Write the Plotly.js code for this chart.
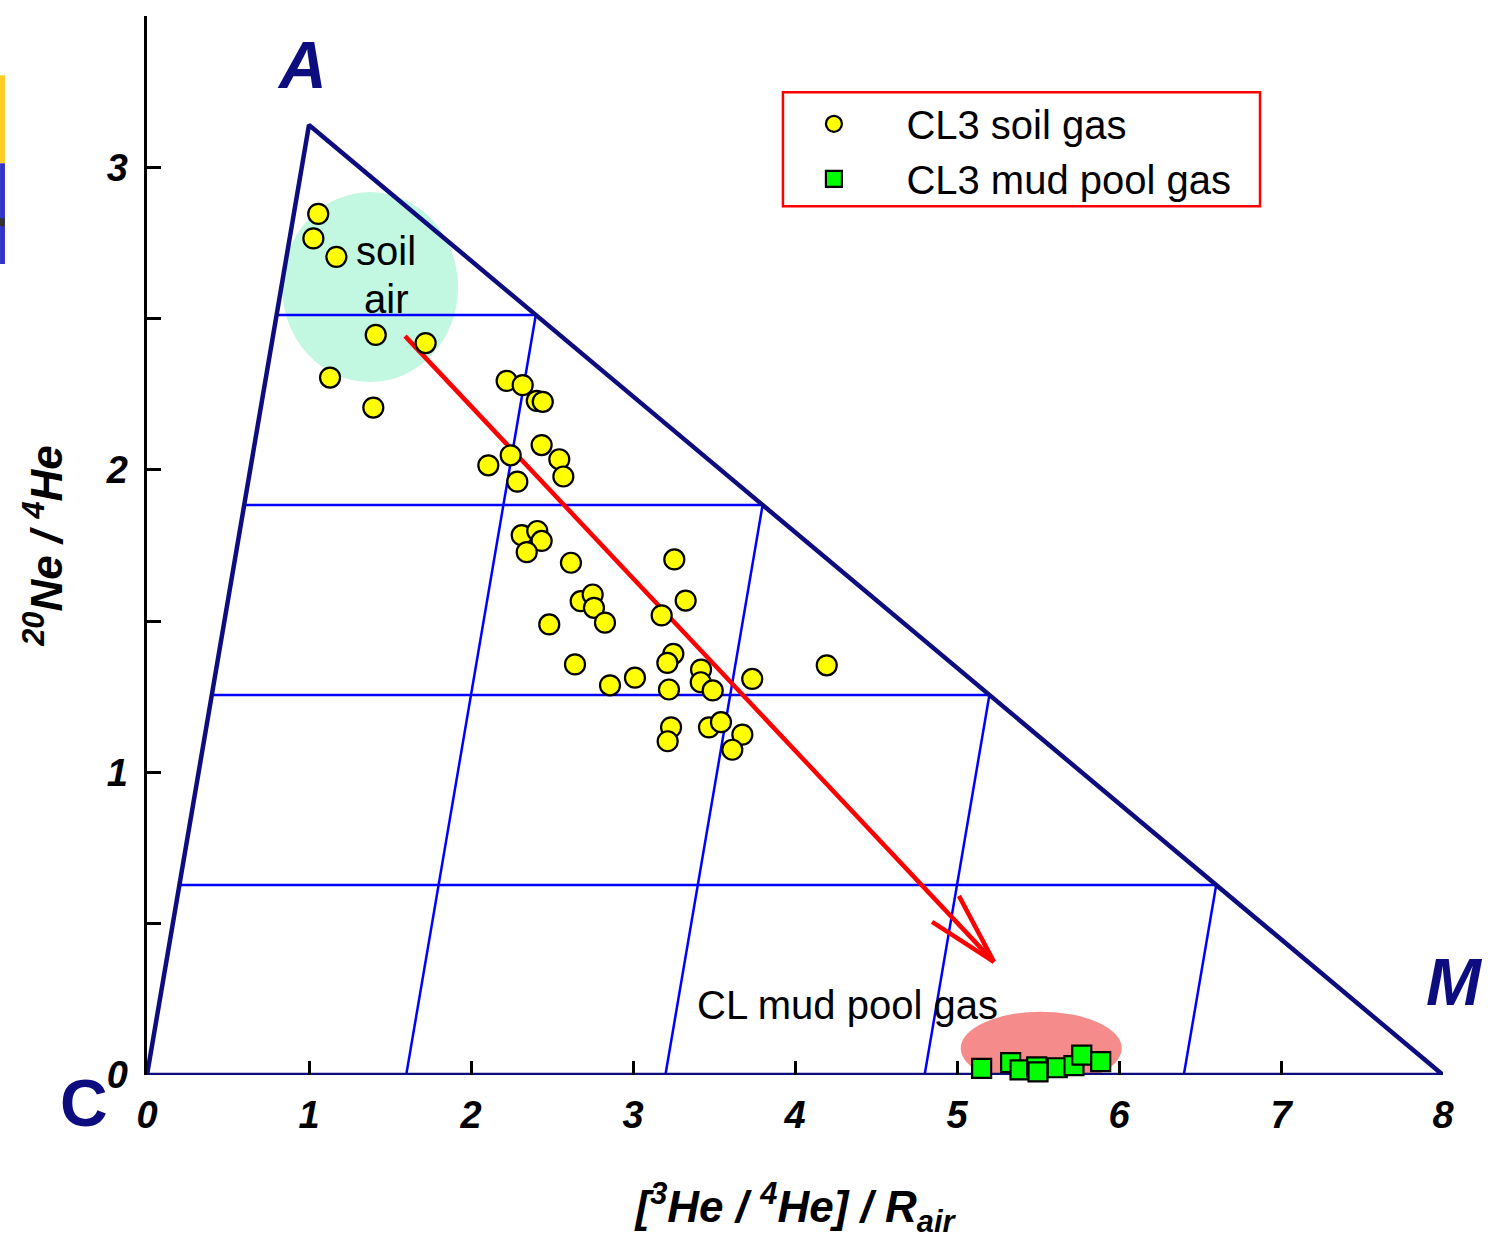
<!DOCTYPE html>
<html>
<head>
<meta charset="utf-8">
<script src="https://cdn.plot.ly/plotly-3.0.1.min.js"></script>
<style>html,body{margin:0;padding:0;background:#fff;}#chart{width:1488px;height:1248px;}</style>
</head>
<body>
<div id="chart"></div>
<script>
// ---- Data ----
// CL3 soil gas: x = [3He/4He]/Rair, y = 20Ne/4He
const soilX = [1.057,1.027,1.169,1.412,1.720,1.130,1.397,2.220,2.319,2.406,2.443,2.436,2.545,2.570,2.107,2.245,2.286,2.313,2.409,2.436,2.344,2.617,3.255,2.677,2.751,2.759,2.827,2.483,3.325,3.177,2.642,2.858,3.012,3.249,3.212,3.222,3.420,3.418,3.492,3.736,4.196,3.235,3.214,3.469,3.543,3.675,3.613];
const soilY = [2.846,2.765,2.704,2.446,2.419,2.305,2.206,2.294,2.280,2.228,2.225,2.082,2.035,1.978,2.015,2.048,1.961,1.784,1.798,1.765,1.728,1.693,1.704,1.566,1.588,1.544,1.495,1.489,1.568,1.519,1.357,1.288,1.313,1.392,1.362,1.274,1.340,1.298,1.271,1.309,1.354,1.149,1.103,1.149,1.166,1.125,1.075];
// CL3 mud pool gas
const mudX = [5.152,5.331,5.389,5.492,5.500,5.619,5.722,5.770,5.887];
const mudY = [0.022,0.041,0.017,0.027,0.010,0.024,0.031,0.066,0.044];

// Ternary-like frame: vertices C, A, M
const triX = [0, 1, 8, 0];
const triY = [0, 3.14, 0, 0];
// Horizontal guide lines (left end on CA, right end on AM)
const hLevelY = [0.628, 1.256, 1.884, 2.512];
const hLeftX  = [0.2, 0.4, 0.6, 0.8];
const hRightX = [6.6, 5.2, 3.8, 2.4];
// Slanted guide lines (from base to AM)
const sBaseX = [1.6, 3.2, 4.8, 6.4];
const sTopX  = [2.4, 3.8, 5.2, 6.6];
const sTopY  = [2.512, 1.884, 1.256, 0.628];

// Mixing arrow
const arrowX = [1.593, 5.228];
const arrowY = [2.442, 0.374];
const wing1X = [5.012, 5.228], wing1Y = [0.592, 0.374];
const wing2X = [4.846, 5.228], wing2Y = [0.506, 0.374];

// Field ellipses [x0,x1,y0,y1]
const soilAir = [0.834, 1.920, 2.290, 2.918];
const mudPool = [5.023, 6.017, -0.033, 0.209];

const xTicks = [0,1,2,3,4,5,6,7,8];
const yTicks = [0,1,2,3];
const yMinorTicks = [0.5,1.5,2.5,3.5];

const legendNames = ['CL3 soil gas', 'CL3 mud pool gas'];

// ---- Build traces ----
const NAVY = '#0d0d80';
const GRID = '#0000ff';
const FAM = 'Liberation Sans, Arial, sans-serif';
const PAD = '\u00a0\u00a0\u00a0\u00a0\u2009';
const traces = [];
const gx = [], gy = [];
for (let i = 0; i < hLevelY.length; i++) {
  gx.push(hLeftX[i], hRightX[i], null);
  gy.push(hLevelY[i], hLevelY[i], null);
}
for (let i = 0; i < sBaseX.length; i++) {
  gx.push(sBaseX[i], sTopX[i], null);
  gy.push(0, sTopY[i], null);
}
traces.push({x: gx, y: gy, mode: 'lines', line: {color: GRID, width: 2.5}, showlegend: false, hoverinfo: 'skip', cliponaxis: false});
traces.push({x: triX, y: triY, mode: 'lines', line: {color: NAVY, width: 4.5}, showlegend: false, hoverinfo: 'skip', cliponaxis: false});
traces.push({x: arrowX.concat([null]).concat(wing1X).concat([null]).concat(wing2X),
             y: arrowY.concat([null]).concat(wing1Y).concat([null]).concat(wing2Y),
             mode: 'lines', line: {color: '#ff0000', width: 4.5}, showlegend: false, hoverinfo: 'skip', cliponaxis: false});
traces.push({x: soilX, y: soilY, mode: 'markers', name: PAD + legendNames[0], cliponaxis: false,
             marker: {symbol: 'circle', size: 20, color: '#ffff00', line: {color: '#000', width: 2.2}}});
traces.push({x: mudX, y: mudY, mode: 'markers', name: PAD + legendNames[1], cliponaxis: false,
             marker: {symbol: 'square', size: 19, color: '#00ff00', line: {color: '#000', width: 2.2}}});

const tickFont = {family: FAM, size: 38, color: '#000', weight: 'bold', style: 'italic'};
const titleFont = {family: FAM, size: 44, color: '#000', weight: 'bold', style: 'italic'};
const txtFont = {family: FAM, size: 40, color: '#000'};
const bigFont = {family: FAM, size: 66, color: NAVY, weight: 'bold', style: 'italic'};

const layout = {
  width: 1488, height: 1248,
  margin: {l: 147, r: 45, t: 16, b: 173},
  paper_bgcolor: '#fff', plot_bgcolor: '#fff',
  showlegend: true,
  legend: {x: 0.5146, y: 0.9289, xanchor: 'left', yanchor: 'top', borderwidth: 0,
           bgcolor: 'rgba(0,0,0,0)', font: {family: FAM, size: 40, color: '#000'}},
  xaxis: {range: [0, 8], tickvals: xTicks, ticktext: xTicks.map(String), ticks: 'inside', ticklen: 14, tickwidth: 3,
          tickcolor: '#000', showline: false, showgrid: false, zeroline: false, tickfont: tickFont,
          ticklabelstandoff: 14,
          title: {text: '[<sup>3</sup>He / <sup>4</sup>He] / R<sub>air</sub>', font: titleFont, standoff: 56}},
  yaxis: {range: [0, 3.5], tickvals: yTicks, ticktext: yTicks.map(String), ticks: 'inside', ticklen: 14, tickwidth: 3,
          tickcolor: '#000', showline: true, linecolor: '#000', linewidth: 3.5, showgrid: false, zeroline: false,
          tickfont: tickFont, ticklabelstandoff: 8,
          minor: {tickvals: yMinorTicks, ticks: 'inside', ticklen: 14, tickwidth: 3, tickcolor: '#000', showgrid: false},
          title: {text: '<sup>20</sup>Ne / <sup>4</sup>He', font: titleFont, standoff: 30}},
  shapes: [
    {type: 'circle', xref: 'x', yref: 'y', x0: soilAir[0], x1: soilAir[1], y0: soilAir[2], y1: soilAir[3],
     fillcolor: '#c2f7e1', line: {width: 0}, layer: 'below'},
    {type: 'circle', xref: 'x', yref: 'y', x0: mudPool[0], x1: mudPool[1], y0: mudPool[2], y1: mudPool[3],
     fillcolor: '#f58b8b', line: {width: 0}, layer: 'below'},
    // legend frame
    {type: 'rect', xref: 'paper', yref: 'paper', x0: 0.4907, x1: 0.8588, y0: 0.8204, y1: 0.928,
     line: {color: '#ff0000', width: 2.5}, fillcolor: 'rgba(0,0,0,0)'},
    // slide remnant strip at left edge
    {type: 'rect', xref: 'paper', yref: 'paper', x0: -0.1134, x1: -0.1096, y0: 0.8609, y1: 0.9440, fillcolor: '#ffcc22', line: {width: 0}},
    {type: 'rect', xref: 'paper', yref: 'paper', x0: -0.1134, x1: -0.1096, y0: 0.7658, y1: 0.8609, fillcolor: '#3333cc', line: {width: 0}},
    {type: 'rect', xref: 'paper', yref: 'paper', x0: -0.1134, x1: -0.1096, y0: 0.8015, y1: 0.8090, fillcolor: '#333333', line: {width: 0}}
  ],
  annotations: [
    {x: 1.475, y: 2.723, xref: 'x', yref: 'y', text: 'soil', showarrow: false, font: txtFont},
    {x: 1.475, y: 2.564, xref: 'x', yref: 'y', text: 'air', showarrow: false, font: txtFont},
    {x: 4.321, y: 0.232, xref: 'x', yref: 'y', text: 'CL mud pool gas', showarrow: false, font: txtFont},
    {x: 0.957, y: 3.339, xref: 'x', yref: 'y', text: 'A', showarrow: false, font: bigFont},
    {x: 1.0085, y: 0.0878, xref: 'paper', yref: 'paper', xanchor: 'center', yanchor: 'middle',
     text: 'M', showarrow: false, font: bigFont},
    {x: -0.0486, y: -0.0264, xref: 'paper', yref: 'paper', xanchor: 'center', yanchor: 'middle',
     text: 'C', showarrow: false, font: {family: FAM, size: 66, color: NAVY, weight: 'bold'}}
  ]
};

Plotly.newPlot('chart', traces, layout, {displayModeBar: false, staticPlot: true});
</script>
</body>
</html>
